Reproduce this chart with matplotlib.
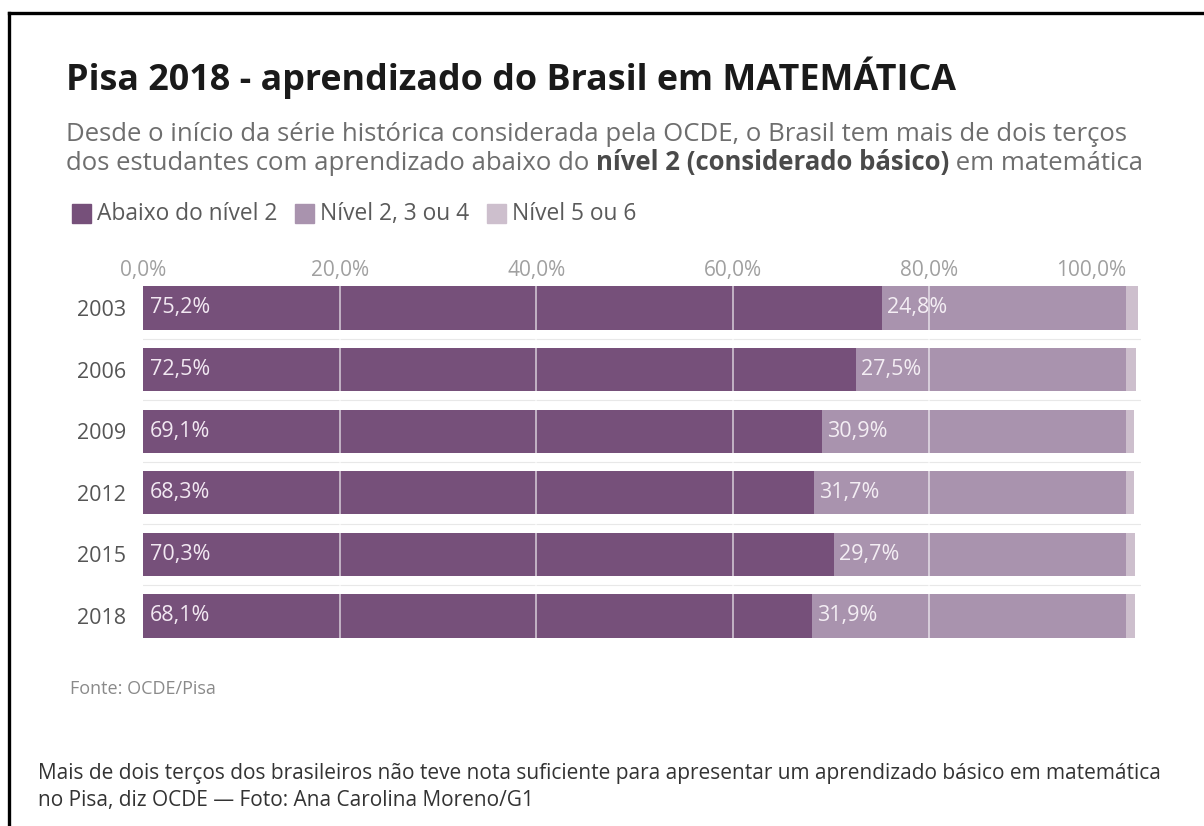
import matplotlib
matplotlib.use('Agg')
import matplotlib.pyplot as plt
from matplotlib.lines import Line2D
from matplotlib.patches import Rectangle

# dados
anos = ['2003', '2006', '2009', '2012', '2015', '2018']
abaixo_n2 = [75.2, 72.5, 69.1, 68.3, 70.3, 68.1]
nivel_2a4 = [24.8, 27.5, 30.9, 31.7, 29.7, 31.9]
nivel_5e6 = [1.2, 1.0, 0.8, 0.8, 0.9, 0.9]
ticks = [0, 20, 40, 60, 80, 100]
tick_labels = ['0,0%', '20,0%', '40,0%', '60,0%', '80,0%', '100,0%']
legenda = ['Abaixo do nível 2', 'Nível 2, 3 ou 4', 'Nível 5 ou 6']
cores = ['#76507a', '#a993ae', '#cdbfcd']

W, H = 1204, 826
FONTE = ['Open Sans', 'DejaVu Sans']
plt.rcParams['font.family'] = FONTE

fig = plt.figure(figsize=(W / 100, H / 100), dpi=100, facecolor='white')
rend = fig.canvas.get_renderer()


def txt(x, y, s, **kw):
    # x, y em pixels a partir do canto superior esquerdo (y = linha de base)
    return fig.text(x / W, 1 - y / H, s, va='baseline', **kw)


def largura(t):
    return t.get_window_extent(rend).width


def pct(v):
    return f'{v:.1f}%'.replace('.', ',')


# moldura (só topo e lado esquerdo aparecem no recorte)
fig.add_artist(Line2D([9 / W, 1], [1 - 13 / H, 1 - 13 / H], color='black', lw=2.4))
fig.add_artist(Line2D([9 / W, 9 / W], [0, 1 - 13 / H], color='black', lw=2.4))

txt(66, 90, 'Pisa 2018 - aprendizado do Brasil em MATEMÁTICA',
    fontsize=25.8, fontweight='bold', color='#1a1a1a')

sub_cor = '#6e6e6e'
txt(66, 141, 'Desde o início da série histórica considerada pela OCDE, o Brasil tem mais de dois terços',
    fontsize=18.5, color=sub_cor)
x = 66
for parte, peso, cor in [('dos estudantes com aprendizado abaixo do ', 'normal', sub_cor),
                         ('nível 2 (considerado básico)', 'bold', '#4a4a4a'),
                         (' em matemática', 'normal', sub_cor)]:
    t = txt(x, 170, parte, fontsize=18.5, fontweight=peso, color=cor)
    x += largura(t)

# legenda
x = 72
for nome, cor in zip(legenda, cores):
    fig.add_artist(Rectangle((x / W, 1 - 223 / H), 19 / W, 19 / H,
                             transform=fig.transFigure, color=cor))
    t = txt(x + 25, 220, nome, fontsize=16.4, color='#5a5a5a')
    x += 25 + largura(t) + 18

# barras
ax = fig.add_axes([143 / W, 1 - 646.8 / H, 997.7 / W, 369.6 / H])
y = list(range(len(anos)))
esq_claro = [a + b for a, b in zip(abaixo_n2, nivel_2a4)]
ax.barh(y, abaixo_n2, height=0.7, color=cores[0], zorder=2)
ax.barh(y, nivel_2a4, left=abaixo_n2, height=0.7, color=cores[1], zorder=2)
ax.barh(y, nivel_5e6, left=esq_claro, height=0.7, color=cores[2], zorder=2)

for g in ticks[1:-1]:
    ax.axvline(g, color='white', lw=1.3, alpha=0.6, zorder=3)
for i in range(len(anos) - 1):
    ax.axhline(i + 0.5, color='#e8e8e8', lw=0.8, zorder=1)

for i in y:
    ax.text(0.7, i, pct(abaixo_n2[i]), va='center', ha='left',
            fontsize=15.5, color='#f2e8f2', zorder=4)
    ax.text(abaixo_n2[i] + 0.5, i, pct(nivel_2a4[i]), va='center', ha='left',
            fontsize=15.5, color='#f4eef4', zorder=4)

# rótulos do eixo x no topo (o último fica alinhado à direita)
for tk, rot in zip(ticks, tick_labels):
    ax.annotate(rot, xy=(tk, 1), xycoords=('data', 'axes fraction'),
                xytext=(0, 1), textcoords='offset pixels',
                ha='right' if tk == ticks[-1] else 'center', va='baseline',
                fontsize=15, color='#a0a0a0')

ax.set_xlim(0, 101.5)
ax.set_ylim(len(anos) - 0.5, -0.5)
ax.set_xticks([])
ax.set_yticks(y, anos)
ax.tick_params(axis='y', left=False, length=0, pad=12, labelsize=15.5, labelcolor='#555555')
for s in ax.spines.values():
    s.set_visible(False)

txt(70, 694, 'Fonte: OCDE/Pisa', fontsize=13, color='#8a8a8a')

txt(38, 779, 'Mais de dois terços dos brasileiros não teve nota suficiente para apresentar um aprendizado básico em matemática',
    fontsize=15, color='#333333')
txt(38, 806, 'no Pisa, diz OCDE — Foto: Ana Carolina Moreno/G1', fontsize=15, color='#333333')

fig.savefig('out.png', dpi=100, facecolor='white')
